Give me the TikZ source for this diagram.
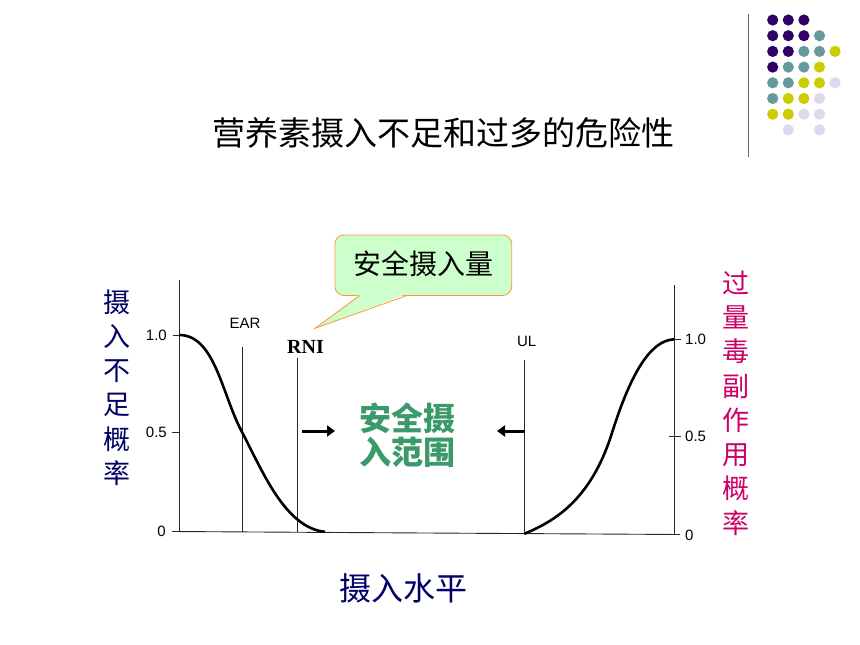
\documentclass[tikz,border=0pt]{standalone}
\usepackage{fontspec}
\setmainfont{Liberation Sans}
\newfontfamily\cjk{Noto Sans CJK SC}
\newfontfamily\serifb{Liberation Serif}
\usetikzlibrary{arrows.meta}
\definecolor{dotpurple}{RGB}{51,0,102}
\definecolor{dotteal}{RGB}{102,153,153}
\definecolor{dotyellow}{RGB}{204,204,0}
\definecolor{dotlav}{RGB}{218,218,236}
\definecolor{navy}{RGB}{0,0,102}
\definecolor{mag}{RGB}{204,0,102}
\definecolor{safegreen}{RGB}{58,154,106}
\definecolor{calloutfill}{RGB}{204,255,204}
\definecolor{calloutedge}{RGB}{255,153,51}
\definecolor{axisgray}{RGB}{40,40,40}
\tikzset{
  axisline/.style={draw=axisgray, line width=0.9pt},
  curveline/.style={draw=black, line width=2.6pt},
  ticklbl/.style={font=\fontsize{15}{15}\selectfont, inner sep=0pt},
  marklbl/.style={font=\fontsize{15}{15}\selectfont, inner sep=0pt},
  bigarrow/.style={line width=3pt, -{Triangle[length=8pt,width=11pt]}},
  vlabel/.style={font=\cjk\fontsize{27}{34.3}\selectfont, align=center, inner sep=0pt}
}
\begin{document}
\begin{tikzpicture}[x=1pt,y=-1pt]
\useasboundingbox (0,0) rectangle (860,645);
\fill[white] (0,0) rectangle (860,645);
% decoration
\draw[draw=gray!80!black, line width=1.4pt] (748.3,14) coordinate (vt) -- (748.3,157) coordinate (vb);
\foreach \r/\c/\col in {0/0/dotpurple,0/1/dotpurple,0/2/dotpurple,
  1/0/dotpurple,1/1/dotpurple,1/2/dotpurple,1/3/dotteal,
  2/0/dotpurple,2/1/dotpurple,2/2/dotteal,2/3/dotteal,2/4/dotyellow,
  3/0/dotpurple,3/1/dotteal,3/2/dotteal,3/3/dotyellow,
  4/0/dotteal,4/1/dotteal,4/2/dotyellow,4/3/dotyellow,4/4/dotlav,
  5/0/dotteal,5/1/dotyellow,5/2/dotyellow,5/3/dotlav,
  6/0/dotyellow,6/1/dotyellow,6/2/dotlav,6/3/dotlav,
  7/1/dotlav,7/3/dotlav}
  \fill[\col] (772.7+15.6*\c, 20+15.7*\r) circle (5.6);
% title
\node[font=\cjk\fontsize{33}{33}\selectfont, inner sep=0pt] (title) at (443,133) {营养素摄入不足和过多的危险性};
% axes
\coordinate (lt) at (179.3,280);
\coordinate (lb) at (179.3,531.5);
\coordinate (rt) at (674.3,285);
\coordinate (rb) at (674.3,534.5);
\draw[axisline] (lt) -- (lb);
\draw[axisline] (rt) -- (rb);
\draw[axisline] (172,531.5) -- (680,534.5);
\draw[axisline] (172.5,335) -- (179.3,335);
\draw[axisline] (171.5,432.7) -- (179.3,432.7);
\draw[axisline] (674.3,339.3) -- (681,339.3);
\draw[axisline] (668.7,436.7) -- (681,436.7);
\node[ticklbl, anchor=east] (l10) at (167,335) {1.0};
\node[ticklbl, anchor=east] (l05) at (167,432.7) {0.5};
\node[ticklbl, anchor=east] (l00) at (166,531.5) {0};
\node[ticklbl, anchor=west] (r10) at (685,339.3) {1.0};
\node[ticklbl, anchor=west] (r05) at (685,436.7) {0.5};
\node[ticklbl, anchor=west] (r00) at (685,535.5) {0};
% marker lines
\draw[axisline] (242.3,346.7) coordinate (eart) -- (242.3,531.7) coordinate (earb);
\draw[axisline] (297.3,358) coordinate (rnit) -- (297.3,532) coordinate (rnib);
\draw[axisline] (524.3,360) coordinate (ult) -- (524.3,533.5) coordinate (ulb);
\node[marklbl] (ear) at (245,323) {EAR};
\node[font=\serifb\bfseries\fontsize{20}{20}\selectfont, inner sep=0pt] (rni) at (305.5,346.7) {RNI};
\node[marklbl] (ul) at (526.7,341.7) {UL};
% curves
\draw[curveline] (179.3,335) .. controls (215,335) and (222,395) .. (242,432) .. controls (262,470) and (285,528) .. (325,531.8);
\draw[curveline] (524.3,533.8) .. controls (555,521) and (590,500) .. (611,436) .. controls (630,375) and (650,340) .. (674.3,339.3);
% arrows
\coordinate (a1s) at (301.7,431);
\coordinate (a1e) at (335,431);
\coordinate (a2s) at (525,431);
\coordinate (a2e) at (497,431);
\draw[bigarrow] (a1s) -- (a1e);
\draw[bigarrow] (a2s) -- (a2e);
% safe range text
\node[font=\cjk\bfseries\fontsize{32}{34}\selectfont, text=safegreen, align=center, inner sep=0pt] (safe) at (407.5,435) {安全摄\\入范围};
% callout
\draw[fill=calloutfill, draw=calloutedge, line width=0.8pt, rounded corners=9pt] (335,235) rectangle (511.7,295.5);
\coordinate (tip) at (315,328.3);
\fill[calloutfill] (360,294) -- (tip) -- (407,294) -- cycle;
\draw[calloutedge, line width=0.8pt] (360,295.5) -- (tip) -- (407,295.5);
\node[font=\cjk\fontsize{28}{28}\selectfont, inner sep=0pt] (callout) at (423,264) {安全摄入量};
% side labels
\node[vlabel, text=navy] (leftlbl) at (116.7,387.5) {摄\\入\\不\\足\\概\\率};
\node[vlabel, text=mag] (rightlbl) at (736,403) {过\\量\\毒\\副\\作\\用\\概\\率};
\node[font=\cjk\fontsize{32}{32}\selectfont, text=navy, inner sep=0pt] (xlbl) at (403,588) {摄入水平};
\end{tikzpicture}
\end{document}
